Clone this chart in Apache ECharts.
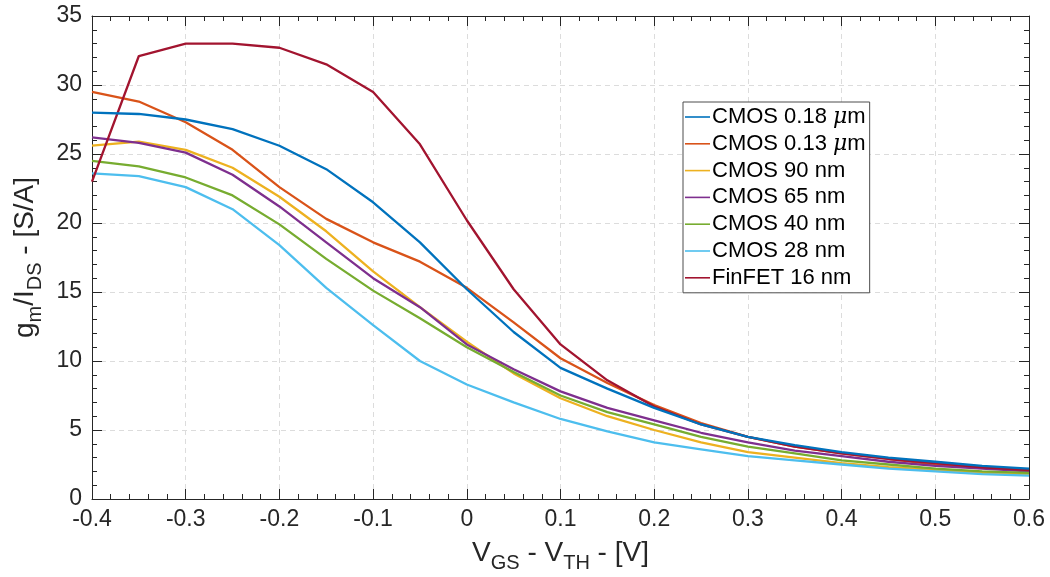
<!DOCTYPE html>
<html>
<head>
<meta charset="utf-8">
<title>gm/IDS vs VGS - VTH</title>
<script src="https://cdn.jsdelivr.net/npm/echarts@6/dist/echarts.min.js"></script>
<style>
  html, body { margin: 0; padding: 0; background: #fff; }
  #chart { width: 1050px; height: 577px; }
</style>
</head>
<body>
<div id="chart"></div>
<script>
// Overdrive voltage VGS - VTH [V]
const vgs = [-0.4, -0.35, -0.3, -0.25, -0.2, -0.15, -0.1, -0.05, 0, 0.05, 0.1,
             0.15, 0.2, 0.25, 0.3, 0.35, 0.4, 0.45, 0.5, 0.55, 0.6];

// gm/IDS [S/A] for each technology node
const cmos180 = [28.0, 27.9, 27.5, 26.8, 25.6, 23.9, 21.5, 18.6, 15.2, 12.1, 9.5,
                 8.0, 6.6, 5.4, 4.5, 3.9, 3.4, 3.0, 2.7, 2.4, 2.2];
const cmos130 = [29.5, 28.8, 27.3, 25.3, 22.6, 20.3, 18.6, 17.2, 15.3, 12.8, 10.2,
                 8.4, 6.8, 5.5, 4.5, 3.8, 3.3, 2.9, 2.5, 2.3, 2.1];
const cmos90  = [25.6, 25.9, 25.3, 24.0, 21.9, 19.4, 16.5, 13.9, 11.4, 9.1, 7.3,
                 6.0, 5.0, 4.1, 3.4, 3.0, 2.6, 2.3, 2.1, 1.9, 1.8];
const cmos65  = [26.2, 25.8, 25.1, 23.5, 21.2, 18.6, 16.0, 13.9, 11.2, 9.4, 7.8,
                 6.6, 5.7, 4.8, 4.1, 3.5, 3.1, 2.7, 2.4, 2.2, 2.0];
const cmos40  = [24.5, 24.1, 23.3, 22.0, 19.9, 17.4, 15.1, 13.1, 11.0, 9.2, 7.5,
                 6.3, 5.4, 4.5, 3.8, 3.3, 2.8, 2.5, 2.2, 2.0, 1.9];
const cmos28  = [23.6, 23.4, 22.6, 21.0, 18.4, 15.3, 12.6, 10.0, 8.3, 7.0, 5.8,
                 4.9, 4.1, 3.6, 3.1, 2.8, 2.5, 2.2, 2.0, 1.8, 1.7];
const finfet16 = [23.0, 32.1, 33.0, 33.0, 32.7, 31.5, 29.5, 25.7, 20.2, 15.2, 11.2,
                  8.6, 6.7, 5.4, 4.5, 3.8, 3.3, 2.9, 2.6, 2.3, 2.1];

const seriesNames = ['CMOS 0.18 μm', 'CMOS 0.13 μm', 'CMOS 90 nm', 'CMOS 65 nm',
                     'CMOS 40 nm', 'CMOS 28 nm', 'FinFET 16 nm'];
const seriesValues = [cmos180, cmos130, cmos90, cmos65, cmos40, cmos28, finfet16];
const seriesColors = ['#0072BD', '#D95319', '#EDB120', '#7E2F8E', '#77AC30', '#4DBEEE', '#A2142F'];

const FONT = '"Liberation Sans", Arial, Helvetica, sans-serif';
const INK = '#262626';

const chart = echarts.init(document.getElementById('chart'), null, { renderer: 'canvas' });

const tickFmt = v => String(Math.round(v * 10) / 10);

function boxAxis(extra) {
  return Object.assign({
    axisLine: { show: true, onZero: false, lineStyle: { color: INK, width: 1 } },
    axisTick: { show: true, inside: true, length: 10, lineStyle: { color: INK, width: 1 } },
    minorTick: { show: true, splitNumber: 5, length: 5, lineStyle: { color: INK, width: 1 } },
    splitLine: { show: false },
    axisLabel: { show: false }
  }, extra);
}

// Axis titles: main glyphs centred in a 40px line, subscripts pushed to its bottom
const titleRich = {
  b: { fontSize: 28, fontFamily: FONT, color: INK, lineHeight: 40, verticalAlign: 'middle' },
  s: { fontSize: 20, fontFamily: FONT, color: INK, lineHeight: 16, verticalAlign: 'bottom' }
};

// Box-style frame: dashed light grid, inward ticks on all four sides
const xBottom = boxAxis({
  type: 'value', position: 'bottom', min: -0.4, max: 0.6, interval: 0.1,
  axisLabel: { show: true, color: INK, fontSize: 23, fontFamily: FONT, margin: 9, formatter: tickFmt },
  splitLine: { show: true, lineStyle: { color: '#dcdcdc', type: [5, 4], width: 1 } },
  name: '{b|V}{s|GS}{b| - V}{s|TH}{b| - [V]}',
  nameLocation: 'middle', nameGap: 34,
  nameTextStyle: { color: INK, fontFamily: FONT, rich: titleRich }
});
const xTop = boxAxis({ type: 'value', position: 'top', min: -0.4, max: 0.6, interval: 0.1 });

const yLeft = boxAxis({
  type: 'value', position: 'left', min: 0, max: 35, interval: 5,
  axisLabel: { show: true, color: INK, fontSize: 23, fontFamily: FONT, margin: 10 },
  splitLine: { show: true, lineStyle: { color: '#dcdcdc', type: [5, 4], width: 1 } },
  name: '{b|g}{s|m}{b|/I}{s|DS}{b| - [S/A]}',
  nameLocation: 'middle', nameGap: 39, nameRotate: 90,
  nameTextStyle: { color: INK, fontFamily: FONT, rich: titleRich }
});
const yRight = boxAxis({ type: 'value', position: 'right', min: 0, max: 35, interval: 5 });

const series = seriesNames.map((name, i) => ({
  name,
  type: 'line',
  xAxisIndex: 0,
  yAxisIndex: 0,
  data: vgs.map((x, k) => [x, seriesValues[i][k]]),
  symbol: 'none',
  smooth: false,
  lineStyle: { color: seriesColors[i], width: 2.3 },
  itemStyle: { color: seriesColors[i] },
  emphasis: { disabled: true },
  z: i === 0 ? 3 : 2
}));

chart.setOption({
  animation: false,
  backgroundColor: '#ffffff',
  grid: { left: 92, right: 21, top: 16, bottom: 78, containLabel: false, outerBoundsMode: 'none' },
  xAxis: [xBottom, xTop],
  yAxis: [yLeft, yRight],
  legend: {
    orient: 'vertical',
    left: 683,
    top: 102,
    padding: [3, 4, 3, 2],
    itemWidth: 25,
    itemHeight: 14,
    itemGap: 2.8,
    backgroundColor: '#ffffff',
    borderColor: '#4d4d4d',
    borderWidth: 1,
    icon: 'path://M0,6.2 L25,6.2 L25,7.8 L0,7.8 Z',
    textStyle: {
      color: '#000000', fontSize: 22, fontFamily: FONT, lineHeight: 24, padding: [0, 0, 0, -3],
      rich: {
        n: { fontSize: 22, fontFamily: FONT, color: '#000' },
        mu: { fontSize: 22, fontFamily: '"DejaVu Serif", "Liberation Serif", serif', fontStyle: 'italic', color: '#000' }
      }
    },
    formatter: name => {
      if (name.indexOf('μ') >= 0) {
        const parts = name.split('μ');
        return '{n|' + parts[0] + '}{mu|μ}{n|' + parts[1] + '}';
      }
      return '{n|' + name + '}';
    },
    data: seriesNames.map((n, i) => ({ name: n, itemStyle: { color: seriesColors[i] } }))
  },
  series
});
</script>
</body>
</html>
